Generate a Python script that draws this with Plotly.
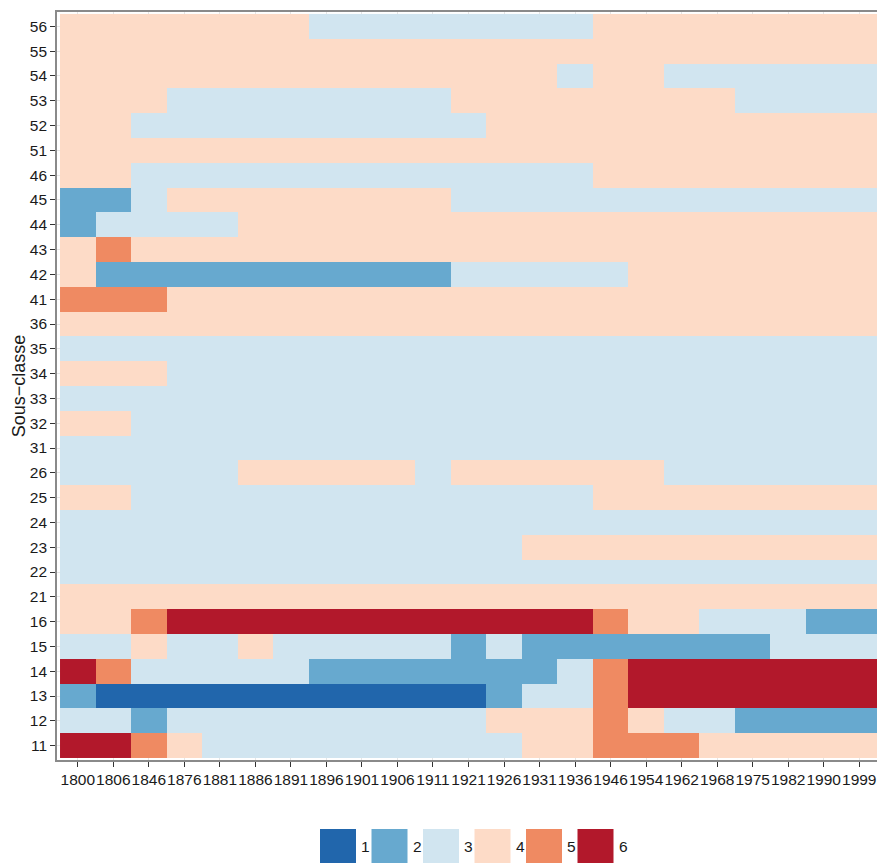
import plotly.graph_objects as go

# Years (columns) and sub-classes (rows, bottom to top)
annees = ["1800", "1806", "1846", "1876", "1881", "1886", "1891", "1896",
          "1901", "1906", "1911", "1921", "1926", "1931", "1936", "1946",
          "1954", "1962", "1968", "1975", "1982", "1990", "1999"]

sous_classes = ["11", "12", "13", "14", "15", "16", "21", "22", "23", "24",
                "25", "26", "31", "32", "33", "34", "35", "36", "41", "42",
                "43", "44", "45", "46", "51", "52", "53", "54", "55", "56"]

# Class (1-6) of each sub-class for each year, one row per sub-class
classes = [
    [6, 6, 5, 4, 3, 3, 3, 3, 3, 3, 3, 3, 3, 4, 4, 5, 5, 5, 4, 4, 4, 4, 4],  # 11
    [3, 3, 2, 3, 3, 3, 3, 3, 3, 3, 3, 3, 4, 4, 4, 5, 4, 3, 3, 2, 2, 2, 2],  # 12
    [2, 1, 1, 1, 1, 1, 1, 1, 1, 1, 1, 1, 2, 3, 3, 5, 6, 6, 6, 6, 6, 6, 6],  # 13
    [6, 5, 3, 3, 3, 3, 3, 2, 2, 2, 2, 2, 2, 2, 3, 5, 6, 6, 6, 6, 6, 6, 6],  # 14
    [3, 3, 4, 3, 3, 4, 3, 3, 3, 3, 3, 2, 3, 2, 2, 2, 2, 2, 2, 2, 3, 3, 3],  # 15
    [4, 4, 5, 6, 6, 6, 6, 6, 6, 6, 6, 6, 6, 6, 6, 5, 4, 4, 3, 3, 3, 2, 2],  # 16
    [4, 4, 4, 4, 4, 4, 4, 4, 4, 4, 4, 4, 4, 4, 4, 4, 4, 4, 4, 4, 4, 4, 4],  # 21
    [3, 3, 3, 3, 3, 3, 3, 3, 3, 3, 3, 3, 3, 3, 3, 3, 3, 3, 3, 3, 3, 3, 3],  # 22
    [3, 3, 3, 3, 3, 3, 3, 3, 3, 3, 3, 3, 3, 4, 4, 4, 4, 4, 4, 4, 4, 4, 4],  # 23
    [3, 3, 3, 3, 3, 3, 3, 3, 3, 3, 3, 3, 3, 3, 3, 3, 3, 3, 3, 3, 3, 3, 3],  # 24
    [4, 4, 3, 3, 3, 3, 3, 3, 3, 3, 3, 3, 3, 3, 3, 4, 4, 4, 4, 4, 4, 4, 4],  # 25
    [3, 3, 3, 3, 3, 4, 4, 4, 4, 4, 3, 4, 4, 4, 4, 4, 4, 3, 3, 3, 3, 3, 3],  # 26
    [3, 3, 3, 3, 3, 3, 3, 3, 3, 3, 3, 3, 3, 3, 3, 3, 3, 3, 3, 3, 3, 3, 3],  # 31
    [4, 4, 3, 3, 3, 3, 3, 3, 3, 3, 3, 3, 3, 3, 3, 3, 3, 3, 3, 3, 3, 3, 3],  # 32
    [3, 3, 3, 3, 3, 3, 3, 3, 3, 3, 3, 3, 3, 3, 3, 3, 3, 3, 3, 3, 3, 3, 3],  # 33
    [4, 4, 4, 3, 3, 3, 3, 3, 3, 3, 3, 3, 3, 3, 3, 3, 3, 3, 3, 3, 3, 3, 3],  # 34
    [3, 3, 3, 3, 3, 3, 3, 3, 3, 3, 3, 3, 3, 3, 3, 3, 3, 3, 3, 3, 3, 3, 3],  # 35
    [4, 4, 4, 4, 4, 4, 4, 4, 4, 4, 4, 4, 4, 4, 4, 4, 4, 4, 4, 4, 4, 4, 4],  # 36
    [5, 5, 5, 4, 4, 4, 4, 4, 4, 4, 4, 4, 4, 4, 4, 4, 4, 4, 4, 4, 4, 4, 4],  # 41
    [4, 2, 2, 2, 2, 2, 2, 2, 2, 2, 2, 3, 3, 3, 3, 3, 4, 4, 4, 4, 4, 4, 4],  # 42
    [4, 5, 4, 4, 4, 4, 4, 4, 4, 4, 4, 4, 4, 4, 4, 4, 4, 4, 4, 4, 4, 4, 4],  # 43
    [2, 3, 3, 3, 3, 4, 4, 4, 4, 4, 4, 4, 4, 4, 4, 4, 4, 4, 4, 4, 4, 4, 4],  # 44
    [2, 2, 3, 4, 4, 4, 4, 4, 4, 4, 4, 3, 3, 3, 3, 3, 3, 3, 3, 3, 3, 3, 3],  # 45
    [4, 4, 3, 3, 3, 3, 3, 3, 3, 3, 3, 3, 3, 3, 3, 4, 4, 4, 4, 4, 4, 4, 4],  # 46
    [4, 4, 4, 4, 4, 4, 4, 4, 4, 4, 4, 4, 4, 4, 4, 4, 4, 4, 4, 4, 4, 4, 4],  # 51
    [4, 4, 3, 3, 3, 3, 3, 3, 3, 3, 3, 3, 4, 4, 4, 4, 4, 4, 4, 4, 4, 4, 4],  # 52
    [4, 4, 4, 3, 3, 3, 3, 3, 3, 3, 3, 4, 4, 4, 4, 4, 4, 4, 4, 3, 3, 3, 3],  # 53
    [4, 4, 4, 4, 4, 4, 4, 4, 4, 4, 4, 4, 4, 4, 3, 4, 4, 3, 3, 3, 3, 3, 3],  # 54
    [4, 4, 4, 4, 4, 4, 4, 4, 4, 4, 4, 4, 4, 4, 4, 4, 4, 4, 4, 4, 4, 4, 4],  # 55
    [4, 4, 4, 4, 4, 4, 4, 3, 3, 3, 3, 3, 3, 3, 3, 4, 4, 4, 4, 4, 4, 4, 4],  # 56
]

niveaux = ["1", "2", "3", "4", "5", "6"]
couleurs = ["#2166AC", "#67A9CF", "#D1E5F0", "#FDDBC7", "#EF8A62", "#B2182B"]

# Stepped colour scale: one flat band per class
n = len(couleurs)
colorscale = []
for i, c in enumerate(couleurs):
    colorscale.append([i / n, c])
    colorscale.append([(i + 1) / n, c])

FONT = "Liberation Sans, Arial, sans-serif"
TICK_SIZE = 15.5

fig = go.Figure(go.Heatmap(
    x=annees,
    y=sous_classes,
    z=classes,
    zmin=0.5,
    zmax=n + 0.5,
    colorscale=colorscale,
    showscale=False,
    hovertemplate="Année %{x}<br>Sous-classe %{y}<br>Classe %{z}<extra></extra>",
))

# Plot area geometry (pixels) used to place the legend below it
W, H = 877, 863
ml, mr, mt, mb = 57, 0, 12, 103
pw, ph = W - ml - mr, H - mt - mb

def px_x(x):
    return (x - ml) / pw

def px_y(y):
    return (H - mb - y) / ph

# Horizontal legend of coloured keys under the chart
shapes = []
annotations = []
key_w, key_h, step = 36, 36, 51.5
x0 = 320
for i, (lab, col) in enumerate(zip(niveaux, couleurs)):
    left = x0 + i * step
    shapes.append(dict(
        type="rect", xref="paper", yref="paper",
        x0=px_x(left), x1=px_x(left + key_w),
        y0=px_y(829), y1=px_y(829 + key_h),
        fillcolor=col, line=dict(width=0), layer="above",
    ))
    annotations.append(dict(
        xref="paper", yref="paper",
        x=px_x(left + key_w + 3), y=px_y(847),
        text=lab, showarrow=False, xanchor="left", yanchor="middle",
        font=dict(family=FONT, size=TICK_SIZE, color="#1a1a1a"),
    ))

fig.update_layout(
    width=W, height=H,
    margin=dict(l=ml, r=mr, t=mt, b=mb, pad=0, autoexpand=False),
    paper_bgcolor="white",
    plot_bgcolor="white",
    font=dict(family=FONT, size=TICK_SIZE, color="#1a1a1a"),
    shapes=shapes,
    annotations=annotations,
    showlegend=False,
)

fig.update_xaxes(
    type="category",
    range=[-0.585, len(annees) - 0.5],
    automargin=False,
    tickangle=0,
    showline=True, linecolor="#8a8a8a", linewidth=1.6, mirror=True,
    ticks="outside", ticklen=5, tickwidth=1.3, tickcolor="#333333",
    showgrid=True, gridcolor="#e6e6e6", gridwidth=1,
    tickfont=dict(family=FONT, size=TICK_SIZE, color="#1a1a1a"),
    zeroline=False,
)

fig.update_yaxes(
    type="category",
    range=[-0.58, len(sous_classes) - 0.42],
    automargin=False,
    showline=True, linecolor="#8a8a8a", linewidth=1.6,
    ticks="outside", ticklen=5, tickwidth=1.3, tickcolor="#333333",
    showgrid=True, gridcolor="#e6e6e6", gridwidth=1,
    tickfont=dict(family=FONT, size=TICK_SIZE, color="#1a1a1a"),
    title=dict(text="Sous\u2212classe", standoff=0,
               font=dict(family=FONT, size=18, color="#1a1a1a")),
    zeroline=False,
)

fig.write_html("out.html")
